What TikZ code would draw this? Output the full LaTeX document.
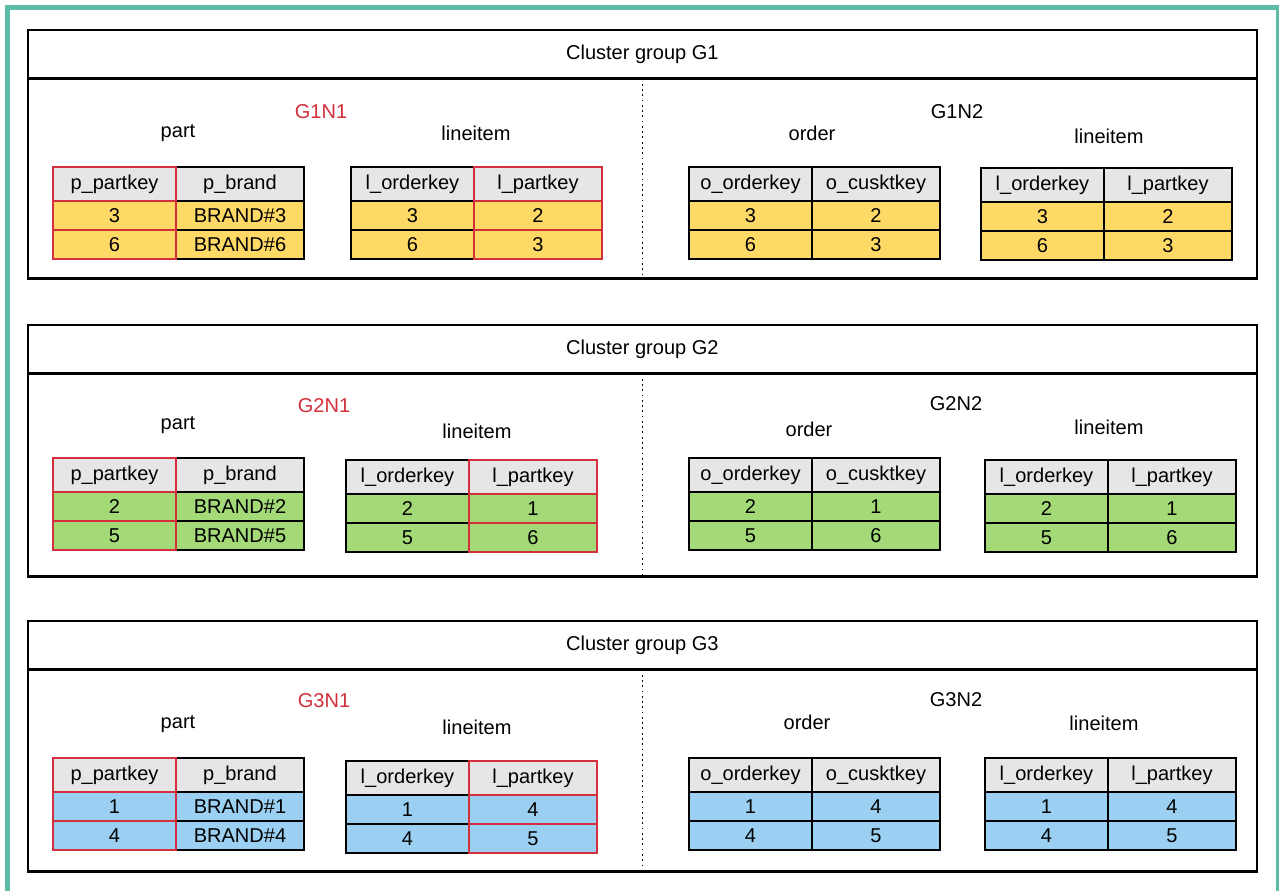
\documentclass[tikz,border=0pt]{standalone}
\usepackage{fontspec}
\setmainfont{Liberation Sans}
\definecolor{headgray}{HTML}{E6E6E6}
\definecolor{yellowfill}{HTML}{FFD966}
\definecolor{greenfill}{HTML}{A3D977}
\definecolor{bluefill}{HTML}{9BD0F2}
\definecolor{keyred}{HTML}{D32F3C}
\definecolor{framegreen}{HTML}{5DBCA8}
\newcommand{\tabfont}{\fontsize{11.4}{13}\selectfont}
\tikzset{
  cell/.style={draw=black, line width=1.4pt, inner sep=0pt, outer sep=0pt, font=\tabfont},
  headcell/.style={cell, fill=headgray, minimum height=0.68cm},
  datacell/.style={cell, minimum height=0.58cm},
  colA/.style={minimum width=2.46cm},
  colB/.style={minimum width=2.56cm},
  keyline/.style={draw=keyred, line width=1pt},
  clusterhead/.style={draw=black, line width=1.3pt, minimum width=24.58cm, minimum height=0.97cm, inner sep=0pt, outer sep=0pt, font=\tabfont},
  clusterbody/.style={draw=black, line width=1.3pt, minimum width=24.58cm, minimum height=4cm, inner sep=0pt, outer sep=0pt},
  tname/.style={font=\tabfont},
  nname/.style={font=\tabfont, text=keyred}
}
\newcommand{\dbtable}[9]{%
  \node[headcell, colA, anchor=north west] (#1-h1) at #2 {#4};
  \node[headcell, colB, anchor=north west] (#1-h2) at (#1-h1.north east) {#5};
  \node[datacell, fill=#3, colA, anchor=north west] (#1-a1) at (#1-h1.south west) {#6};
  \node[datacell, fill=#3, colB, anchor=north west] (#1-b1) at (#1-a1.north east) {#7};
  \node[datacell, fill=#3, colA, anchor=north west] (#1-a2) at (#1-a1.south west) {#8};
  \node[datacell, fill=#3, colB, anchor=north west] (#1-b2) at (#1-a2.north east) {#9};
}
\begin{document}
\begin{tikzpicture}[x=0.02cm, y=-0.02cm]
\useasboundingbox (0,0) rectangle (1279,890);
\fill[white] (0,0) rectangle (1279,890);
\draw[framegreen, line width=0.1cm] (7.5,900) -- (7.5,7.5) -- (1278,7.5) -- (1278,900);

\node[clusterhead, anchor=north west] (g1head) at (28,30) {Cluster group G1};
\node[clusterbody, anchor=north west] (g1body) at (g1head.south west) {};
\draw[dotted, line width=1pt] (g1body.north) -- (g1body.south);
\node[clusterhead, anchor=north west] (g2head) at (28,325) {Cluster group G2};
\node[clusterbody, minimum height=4.06cm, anchor=north west] (g2body) at (g2head.south west) {};
\draw[dotted, line width=1pt] (g2body.north) -- (g2body.south);
\node[clusterhead, anchor=north west] (g3head) at (28,621) {Cluster group G3};
\node[clusterbody, minimum height=4.04cm, anchor=north west] (g3body) at (g3head.south west) {};
\draw[dotted, line width=1pt] (g3body.north) -- (g3body.south);

\node[nname] (g1n1) at (321,112) {G1N1};
\node[tname] (part1) at (178,133) {part};
\node[tname] (line1) at (476,133) {lineitem};
\node[tname] (g1n2) at (957,112) {G1N2};
\node[tname] (order1) at (812,133) {order};
\node[tname] (lineb1) at (1109,136) {lineitem};
\dbtable{p1}{(53,167)}{yellowfill}{p\_partkey}{p\_brand}{3}{BRAND\#3}{6}{BRAND\#6}
\dbtable{l1}{(351,167)}{yellowfill}{l\_orderkey}{l\_partkey}{3}{2}{6}{3}
\dbtable{o1}{(689,167)}{yellowfill}{o\_orderkey}{o\_cusktkey}{3}{2}{6}{3}
\dbtable{m1}{(981,168)}{yellowfill}{l\_orderkey}{l\_partkey}{3}{2}{6}{3}

\node[nname] (g2n1) at (324,406) {G2N1};
\node[tname] (part2) at (178,425) {part};
\node[tname] (line2) at (477,431) {lineitem};
\node[tname] (g2n2) at (956,404) {G2N2};
\node[tname] (order2) at (809,429) {order};
\node[tname] (lineb2) at (1109,427) {lineitem};
\dbtable{p2}{(53,458)}{greenfill}{p\_partkey}{p\_brand}{2}{BRAND\#2}{5}{BRAND\#5}
\dbtable{l2}{(346,460)}{greenfill}{l\_orderkey}{l\_partkey}{2}{1}{5}{6}
\dbtable{o2}{(689,458)}{greenfill}{o\_orderkey}{o\_cusktkey}{2}{1}{5}{6}
\dbtable{m2}{(985,460)}{greenfill}{l\_orderkey}{l\_partkey}{2}{1}{5}{6}

\node[nname] (g3n1) at (324,701) {G3N1};
\node[tname] (part3) at (178,724) {part};
\node[tname] (line3) at (477,727) {lineitem};
\node[tname] (g3n2) at (956,700) {G3N2};
\node[tname] (order3) at (807,722) {order};
\node[tname] (lineb3) at (1104,723) {lineitem};
\dbtable{p3}{(53,758)}{bluefill}{p\_partkey}{p\_brand}{1}{BRAND\#1}{4}{BRAND\#4}
\dbtable{l3}{(346,761)}{bluefill}{l\_orderkey}{l\_partkey}{1}{4}{4}{5}
\dbtable{o3}{(689,758)}{bluefill}{o\_orderkey}{o\_cusktkey}{1}{4}{4}{5}
\dbtable{m3}{(985,758)}{bluefill}{l\_orderkey}{l\_partkey}{1}{4}{4}{5}

\foreach \t in {p1,p2,p3}
  \foreach \c in {h1,a1,a2}
    \draw[keyline] (\t-\c.north west) rectangle (\t-\c.south east);
\foreach \t in {l1,l2,l3}
  \foreach \c in {h2,b1,b2}
    \draw[keyline] (\t-\c.north west) rectangle (\t-\c.south east);
\end{tikzpicture}
\end{document}
